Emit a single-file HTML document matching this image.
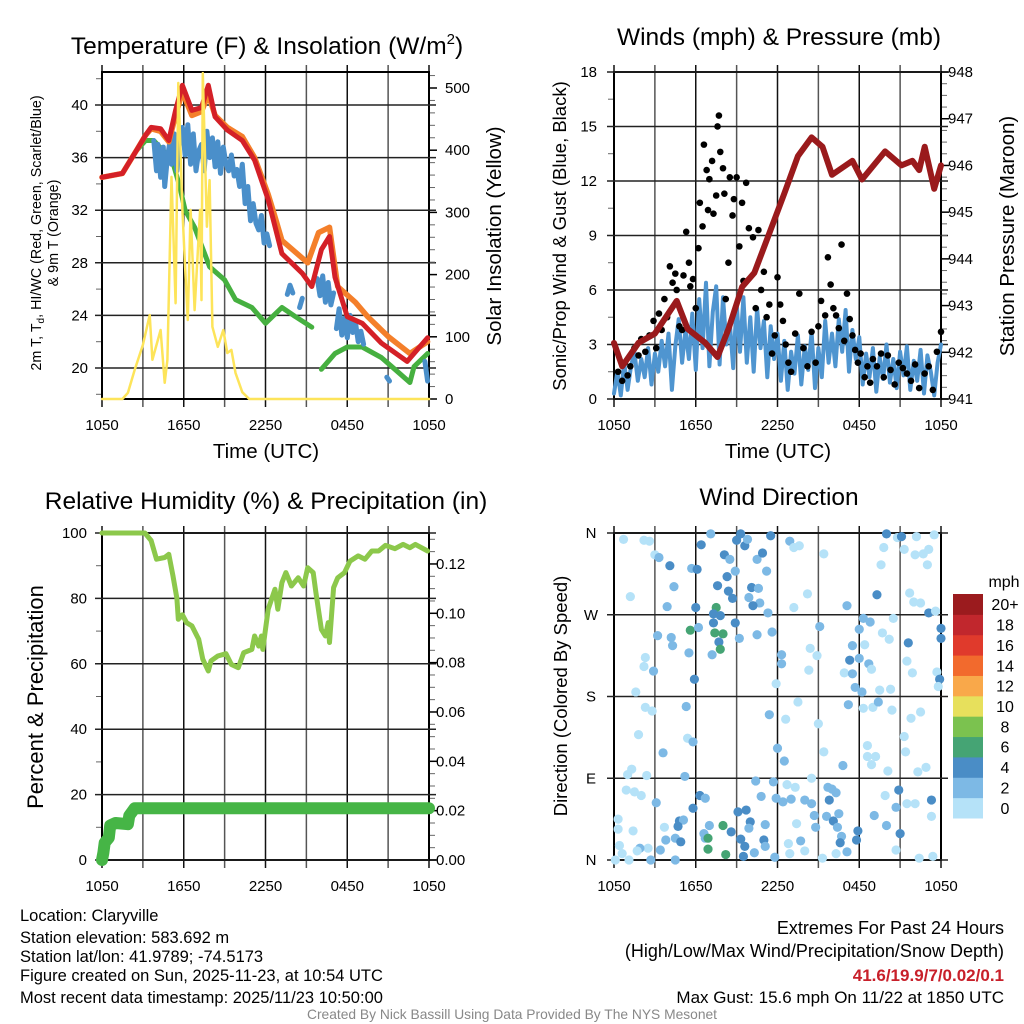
<!DOCTYPE html>
<html><head><meta charset="utf-8"><style>
html,body{margin:0;padding:0;background:#fff}
svg{display:block;font-family:"Liberation Sans",sans-serif}
</style></head><body>
<svg id="c" width="1024" height="1024" viewBox="0 0 1024 1024" xmlns="http://www.w3.org/2000/svg">
<rect width="1024" height="1024" fill="#fff"/>
<g id="g1"></g>
<g id="g2"></g>
<g id="g3"></g>
<g id="g4"></g>
<text x="267" y="54" font-size="24.5" text-anchor="middle">Temperature (F) &amp; Insolation (W/m<tspan font-size="15" dy="-10">2</tspan><tspan dy="10">)</tspan></text>
<text x="779" y="45" font-size="24.5" text-anchor="middle">Winds (mph) &amp; Pressure (mb)</text>
<text x="266" y="509" font-size="24.5" text-anchor="middle">Relative Humidity (%) &amp; Precipitation (in)</text>
<text x="779" y="505" font-size="24.5" text-anchor="middle">Wind Direction</text>
<text transform="translate(41,233) rotate(-90)" font-size="14.3" text-anchor="middle">2m T, T<tspan font-size="10" dy="3">d</tspan><tspan dy="-3">, HI/WC (Red, Green, Scarlet/Blue)</tspan></text>
<text transform="translate(58,233) rotate(-90)" font-size="14.3" text-anchor="middle">&amp; 9m T (Orange)</text>
<text transform="translate(501,236) rotate(-90)" font-size="20.5" text-anchor="middle">Solar Insolation (Yellow)</text>
<text x="266" y="458" font-size="20.5" text-anchor="middle">Time (UTC)</text>
<text x="778" y="458" font-size="20.5" text-anchor="middle">Time (UTC)</text>
<text transform="translate(566,236) rotate(-90)" font-size="18.5" text-anchor="middle">Sonic/Prop Wind &amp; Gust (Blue, Black)</text>
<text transform="translate(1014,236) rotate(-90)" font-size="20.5" text-anchor="middle">Station Pressure (Maroon)</text>
<text transform="translate(43,697) rotate(-90)" font-size="22" text-anchor="middle">Percent &amp; Precipitation</text>
<text transform="translate(567,696) rotate(-90)" font-size="18.5" text-anchor="middle">Direction (Colored By Speed)</text>
<g font-size="16.5">
<text x="20" y="921">Location: Claryville</text>
<text x="20" y="943">Station elevation: 583.692 m</text>
<text x="20" y="962">Station lat/lon: 41.9789; -74.5173</text>
<text x="20" y="981">Figure created on Sun, 2025-11-23, at 10:54 UTC</text>
<text x="20" y="1003">Most recent data timestamp: 2025/11/23 10:50:00</text>
</g>
<g font-size="18" text-anchor="end">
<text x="1004" y="934">Extremes For Past 24 Hours</text>
<text x="1004" y="957">(High/Low/Max Wind/Precipitation/Snow Depth)</text>
<text x="1004" y="981" font-size="17" fill="#c8202a" font-weight="bold">41.6/19.9/7/0.02/0.1</text>
<text x="1004" y="1003" font-size="17">Max Gust: 15.6 mph On 11/22 at 1850 UTC</text>
</g>
<text x="512" y="1019" font-size="13.8" fill="#888" text-anchor="middle">Created By Nick Bassill Using Data Provided By The NYS Mesonet</text>
</svg>
<script>
// ---- Temperature panel data ----
const redHours=[0,1.5,2.5,3.2,3.6,4.3,4.9,5.4,5.9,6.6,7.3,7.8,8.3,9.2,10.3,11.2,12.2,13.2,14.7,15.4,16.1,16.7,17.1,18.0,19.1,20.5,22.4,23.9];
const redTemps=[34.5,34.8,36.5,37.7,38.3,38.2,37.3,39.6,41.5,39.6,39.8,41.5,39.1,38.1,37.3,35.8,32.8,28.7,27.2,26.2,29.0,30.0,26.9,23.9,23.4,21.9,20.5,22.3];
const orangeHours=[0,1.5,2.5,3.2,3.6,4.3,4.9,5.4,5.9,6.6,7.3,7.8,8.3,9.2,10.3,11.2,12.2,12.7,13.2,15.1,15.9,16.7,17.3,18.6,19.5,21.0,22.6,23.9];
const orangeTemps=[34.5,34.8,36.5,37.7,38.2,38.0,37.2,39.2,41.0,39.2,39.5,40.8,39.2,38.3,37.6,36.0,33.2,31.5,29.7,28.0,30.3,30.7,26.2,25.0,23.9,22.4,21.1,22.0];
const greenHours=[0,1.5,2.5,3.2,3.8,4.5,5.1,5.7,6.1,6.8,7.9,9.0,9.8,11.0,12.0,13.2,14.2,15.4,15.7,16.1,17.1,18.0,19.1,20.5,21.5,22.6,22.9,23.9];
const greenTemps=[34.5,34.8,36.5,37.3,37.3,36.5,36.0,33.8,32.0,30.7,27.7,26.7,25.2,24.6,23.4,24.6,23.9,23.1,null,19.9,21.1,21.6,21.6,20.8,19.9,18.9,20.1,21.1];
const blueHours=[3.8,4.0,4.1,4.3,4.5,4.6,4.8,5.0,5.1,5.3,5.5,5.7,5.9,6.1,6.3,6.5,6.7,6.9,7.1,7.3,7.5,7.7,7.9,8.1,8.3,8.5,8.7,8.9,9.1,9.3,9.5,9.7,9.9,10.1,10.3,10.5,10.7,10.9,11.1,11.3,11.5,11.7,11.9,12.1,12.3,13.0,13.6,13.8,14.0,14.2,14.5,14.7,15.0,15.8,16.0,16.2,16.4,16.6,16.8,17.0,17.1,17.2,17.4,17.6,17.8,18.0,18.2,18.4,18.6,18.8,19.0,19.2,20.0,20.9,21.1,22.0,23.7,23.9];
const blueTemps=[37.3,35.0,37.0,34.5,36.8,33.8,36.0,37.3,35.5,37.8,35.0,37.5,38.3,36.2,38.5,35.5,37.8,35.0,36.5,37.0,35.0,38.0,36.0,37.5,35.3,37.2,34.8,36.8,35.5,35.0,36.2,34.6,35.1,33.8,35.5,32.5,33.8,31.2,32.5,31.0,30.5,31.6,29.5,30.2,29.3,null,25.6,26.3,25.7,null,24.6,25.3,null,26.8,25.5,27.0,25.0,26.5,24.8,25.7,null,23.0,24.5,22.5,23.8,22.3,24.0,22.7,23.5,22.0,22.8,21.8,null,19.3,19.0,null,20.5,19.0];
const solarHours=[0,1.5,1.9,2.4,3.0,3.5,3.7,4.3,4.6,4.8,5.1,5.4,5.6,5.9,6.1,6.3,6.5,6.8,7.2,7.3,7.4,7.7,7.9,8.1,8.5,8.9,9.2,9.5,9.8,10.3,10.8,24];
const solarWatts=[0,0,10,47,87,135,63,111,26,63,357,154,508,304,212,127,304,143,304,159,524,277,352,116,84,111,74,79,42,11,0,0];
const tempTicks=[20,24,28,32,36,40];
const solarTicks=[0,100,200,300,400,500];
const timeTickLabels=["1050","1650","2250","0450","1050"];
// ---- Winds panel data ----
const gustHours=[0.3,0.6,0.8,1.0,1.2,1.5,1.8,2.0,2.3,2.6,2.9,3.1,3.3,3.5,3.7,3.9,4.1,4.3,4.5,4.6,4.8,5.0,5.1,5.3,5.5,5.6,5.8,6.0,6.2,6.3,6.5,6.6,6.8,6.9,7.0,7.2,7.3,7.5,7.6,7.7,7.8,8.0,8.1,8.2,8.4,8.5,8.7,8.8,9.0,9.2,9.4,9.5,9.7,9.9,10.2,10.4,10.6,10.8,11.0,11.2,11.4,11.6,11.8,12.0,12.2,12.4,12.6,12.8,13.0,13.3,13.6,13.9,14.2,14.5,14.8,15.0,15.2,15.5,15.7,15.9,16.1,16.3,16.5,16.7,16.9,17.1,17.3,17.5,17.7,17.9,18.1,18.4,18.6,18.8,19.0,19.3,19.6,19.8,20.1,20.3,20.6,20.9,21.2,21.5,21.8,22.1,22.4,22.8,23.1,23.4,23.7,24.0];
const gustMph=[1.5,1.0,2.0,1.3,1.8,2.8,2.4,3.3,2.6,3.5,4.3,2.8,4.7,3.8,5.5,4.5,7.3,6.4,6.9,6.0,4.0,3.8,6.8,9.2,7.5,6.2,6.6,5.0,8.3,10.8,9.5,14.0,12.6,10.4,12.1,13.1,10.2,11.2,15.0,15.6,13.6,12.7,11.3,5.5,7.5,12.2,10.1,11.0,12.2,8.4,10.8,6.5,11.9,9.4,8.9,5.0,9.3,6.0,7.0,4.5,5.2,2.5,3.5,6.7,5.2,4.3,3.0,2.0,1.5,3.6,5.8,2.8,1.8,3.7,2.0,4.0,5.4,4.6,7.8,6.3,5.0,4.6,3.9,8.5,3.2,5.8,4.4,3.5,2.7,2.0,2.5,1.2,1.8,0.9,2.2,1.8,2.5,1.2,2.4,1.6,0.8,2.0,1.7,1.4,1.0,1.9,0.6,1.4,1.8,0.5,2.6,3.7];
const sonicStep=0.25;
const sonicMph=[0.3,1.5,0.2,2.0,0.5,1.8,2.6,1.0,2.2,1.2,2.8,0.8,2.5,1.5,3.2,1.8,3.6,0.5,2.9,4.4,2.0,3.8,2.2,4.7,1.6,5.5,2.8,6.4,1.8,4.8,6.2,1.9,5.6,3.0,4.2,1.7,5.3,2.6,5.6,2.0,4.5,1.5,5.0,2.8,4.3,1.2,4.0,2.2,3.6,1.0,3.2,0.5,2.6,1.4,3.5,0.8,2.9,1.6,3.7,0.6,2.8,1.2,4.3,2.0,3.6,1.8,4.4,2.6,4.9,1.5,3.8,2.2,3.4,0.8,2.5,1.2,2.8,0.4,2.3,1.1,3.0,0.9,2.2,0.6,2.6,1.3,2.9,0.5,2.1,1.0,2.7,0.3,2.4,1.5,0.2,2.0,3.0];
const presHours=[0,0.6,1.8,3.0,4.6,5.4,6.7,7.6,8.4,9.4,10.3,11.6,12.5,13.5,14.5,15.3,16.0,17.5,18.2,19.9,21.1,21.9,22.4,22.8,23.5,24];
const presMb=[942.2,941.7,942.2,942.4,943.1,942.5,942.2,941.9,942.5,943.4,943.7,944.7,945.4,946.2,946.6,946.4,945.8,946.1,945.7,946.3,946.0,946.1,945.9,946.4,945.5,946.0];
const windTicks=[0,3,6,9,12,15,18];
const presTicks=[941,942,943,944,945,946,947,948];
// ---- Humidity panel data ----
const rhHours=[0,3.15,3.6,4.0,4.6,4.9,5.2,5.5,5.6,5.9,6.2,6.6,7.1,7.4,7.8,8.0,8.5,9.1,9.5,10.0,10.4,11.0,11.2,11.5,11.7,11.8,12.2,12.7,12.9,13.2,13.5,13.9,14.4,14.8,15.1,15.5,15.7,16.1,16.4,16.6,16.7,17.0,17.3,17.8,18.2,18.8,19.3,19.8,20.3,20.8,21.5,22.1,22.6,23.0,23.9];
const rhPct=[100,100,97.7,92,92.5,93.5,87,80,73.6,75,72.6,71.6,67.5,61.4,57.8,60.9,62.4,63.1,59.8,58.8,63.4,64.4,68.5,65.4,68.5,64.4,76.7,82.8,76.7,84.8,87.9,83.8,86.3,83.8,89.4,87.9,81.8,70.5,68.5,72.6,66.5,83.3,86.3,87.9,91.4,93,92,94.5,94.5,96.2,95.2,96.5,95.5,96.5,94.5];
const precipHours=[0,0.1,0.2,0.5,0.6,1.0,1.9,2.0,2.4,24];
const precipIn=[0,0.003,0.007,0.009,0.014,0.015,0.0145,0.018,0.021,0.021];
const rhTicks=[0,20,40,60,80,100];
const precipTicks=[0,0.02,0.04,0.06,0.08,0.10,0.12];
// ---- Wind direction panel data ----
const dirHours=[0.7,2.2,2.6,3.0,3.3,4.1,4.4,1.2,3.9,5.7,6.1,6.4,7.1,8.1,8.5,8.3,7.6,8.4,8.7,8.9,9.0,9.3,9.6,9.8,10.5,10.9,11.2,10.1,10.6,9.9,10.7,10.2,11.3,6.0,7.5,11.5,12.9,13.2,13.6,14.2,13.2,15.4,17.1,19.3,19.6,19.8,20.0,20.8,21.1,21.3,21.7,22.0,22.5,22.2,22.1,22.7,23.1,23.0,23.5,23.1,23.6,
3.2,4.2,4.3,2.3,2.2,2.9,1.6,5.6,5.5,5.9,6.2,7.3,7.8,7.3,7.4,8.0,7.7,7.8,7.2,8.9,9.2,10.5,11.6,12.3,12.3,11.9,14.4,14.9,14.3,15.1,16.9,17.5,17.5,17.3,18.0,17.7,18.2,18.0,18.3,18.8,18.4,18.7,18.9,19.7,20.2,20.5,21.6,21.5,21.9,19.5,20.3,23.7,23.9,23.8,24.0,24.0,
2.3,2.8,1.8,3.6,5.3,5.4,5.8,1.3,1.0,2.4,5.2,13.5,11.4,12.6,15.0,12.0,12.5,15.4,16.8,17.2,18.3,19.0,19.4,20.4,21.8,22.5,21.3,21.4,18.6,18.6,19.2,18.9,20.1,22.3,22.9,
0.9,1.5,2.0,3.1,0.3,0.3,1.4,3.7,4.8,5.1,4.7,5.8,6.3,6.7,3.8,4.5,4.9,3.4,2.5,1.9,0.4,0.6,1.7,1.1,0.1,2.7,4.5,6.6,7.0,6.7,6.9,8.0,6.9,8.2,8.6,9.1,9.7,10.0,9.9,9.3,9.6,9.5,10.3,11.0,11.1,11.1,11.8,10.4,11.7,10.8,11.9,12.4,12.7,13.3,13.0,14.0,14.5,14.5,15.7,16.0,16.3,15.8,14.7,14.8,15.6,16.1,16.5,16.4,16.7,16.6,17.9,17.8,17.1,16.3,14.0,13.7,12.9,13.4,12.8,15.3,19.1,20.0,19.9,20.7,20.9,21.0,21.5,22.1,23.3,23.3,20.7,22.4,23.4];
const dirDegrees=[353,352,351,336,333,324,301,290,279,321,320,347,359,336,331,312,302,296,288,318,352,359,346,353,331,338,318,300,299,289,283,280,272,278,278,357,351,344,346,293,278,337,280,292,325,344,359,355,356,342,294,284,283,356,336,337,342,325,358,272,274,
247,245,236,223,213,208,185,253,228,199,256,271,269,261,250,249,240,232,226,261,244,248,251,226,216,194,233,225,209,257,206,205,236,220,222,190,185,254,266,262,237,216,210,250,243,266,239,219,206,187,188,207,199,191,255,244,
168,164,138,118,169,134,130,100,94,93,92,174,160,155,150,123,109,119,104,171,167,168,174,165,156,163,136,119,126,114,114,105,98,97,102,
77,75,71,63,45,34,32,36,43,44,37,57,71,68,22,24,20,11,13,13,16,7,10,0,0,0,0,29,38,24,24,38,12,6,31,53,55,42,35,23,15,4,8,22,15,39,3,87,86,70,68,64,83,80,67,66,62,90,80,78,74,66,49,36,48,43,51,36,26,19,32,22,9,7,10,21,7,40,18,2,49,38,71,58,77,29,62,62,66,48,11,2,4];
const dirSpeeds=[1,1,1,1,3,5,3,1,3,3,5,5,3,5,3,5,5,5,5,3,5,5,5,3,3,5,3,5,3,3,3,5,3,5,7,5,3,1,1,1,1,1,3,5,1,1,5,1,5,1,1,1,1,1,1,1,1,1,1,5,1,
3,3,3,1,1,3,1,7,3,5,3,5,5,5,7,7,5,7,3,5,3,3,3,3,3,1,1,1,1,3,1,3,3,5,3,3,3,3,3,3,1,3,1,1,1,1,5,1,1,1,1,1,5,1,5,5,
1,1,1,3,3,1,3,1,1,1,3,1,3,1,1,3,3,1,3,3,1,1,3,1,1,1,1,1,1,1,1,1,1,1,1,
1,1,1,3,1,1,1,1,5,3,5,5,5,3,3,3,5,3,1,3,1,1,1,1,1,3,3,3,3,3,7,7,7,7,5,5,5,5,3,5,5,5,3,5,3,3,3,3,3,3,3,3,1,1,3,3,3,1,3,3,3,5,3,3,3,5,3,3,3,5,5,5,3,1,1,3,1,1,1,1,3,3,1,3,5,5,1,1,5,1,1,1,1];
const dirTickLabels=["N","E","S","W","N"];
const speedBins=["0","2","4","6","8","10","12","14","16","18","20+"];
const speedColors=["#b5e2f8","#7db9e5","#4a8dc6","#45a474","#7bc24f","#e7e05c","#f9a84a","#f26a2d","#e03a2c","#c1272d","#9b1b1e"];

const NS="http://www.w3.org/2000/svg";
function mk(parent,tag,attrs){const e=document.createElementNS(NS,tag);for(const k in attrs)e.setAttribute(k,attrs[k]);parent.appendChild(e);return e;}
function pathFrom(hs,vs,fx,fy){let d="",pen=false;for(let i=0;i<hs.length;i++){if(vs[i]===null||vs[i]===undefined){pen=false;continue;}d+=(pen?"L":"M")+fx(hs[i]).toFixed(1)+","+fy(vs[i]).toFixed(1);pen=true;}return d;}

const L1=102,R1=429,L2=614,R2=941;
const xA=h=>L1+h*(R1-L1)/24;
const xB=h=>L2+h*(R2-L2)/24;
const yT=t=>368-(t-20)*13.15;
const yS=w=>399-w*0.622;
const yW=m=>399-m*18.17;
const yP=p=>399-(p-941)*46.71;
const yRH=r=>860-r*3.27;
const yPr=p=>860-p*2467;
const yD=d=>860-d*327/360;
const TICK=15;

function frame(g,L,R,T,B,name){
  for(let k=0;k<=8;k++){const x=L+k*(R-L)/8;
    const ln=mk(g,"line",{x1:x,y1:T-7,x2:x,y2:B+8,stroke:k%2?"#555":"#111","stroke-width":1.5});
    
    }
  const r=mk(g,"rect",{x:L,y:T,width:R-L,height:B-T,fill:"none",stroke:"#000","stroke-width":2});
  
  
}
function hgrid(g,L,R,ys){ys.forEach(y=>{const ln=mk(g,"line",{x1:L-7,y1:y,x2:R+7,y2:y,stroke:"#222","stroke-width":1.5});
  
  });}
function minorTicks(g,x,ys,dir){ys.forEach(y=>{const ln=mk(g,"line",{x1:x,y1:y,x2:x+dir*5,y2:y,stroke:"#666","stroke-width":1});
  
  });}
function label(g,x,y,s,anchor,size,name){const t=mk(g,"text",{x:x,y:y,"font-size":size||TICK,"text-anchor":anchor||"middle"});t.textContent=s;
  
  return t;}
function xLabels(g,fx,y){timeTickLabels.forEach((s,i)=>label(g,fx(i*6),y,s,"middle",TICK,'x-tick-label'));}
function series(g,hs,vs,fx,fy,color,w,name){const p=mk(g,"path",{d:pathFrom(hs,vs,fx,fy),fill:"none",stroke:color,"stroke-width":w,"stroke-linejoin":"round","stroke-linecap":"round"});
  
  return p;}

// ---------- Panel 1 ----------
const g1=document.getElementById('g1');
frame(g1,L1,R1,72,399,'temperature-plot');
hgrid(g1,L1,R1,tempTicks.map(yT));
minorTicks(g1,L1-1,[18,22,26,30,34,38,42].map(yT),-1);
minorTicks(g1,R1+1,[20,40,60,80,120,140,160,180,220,240,260,280,320,340,360,380,420,440,460,480,520].map(yS),1);
solarTicks.forEach(v=>{const ln=mk(g1,"line",{x1:R1,y1:yS(v),x2:R1+8,y2:yS(v),stroke:"#000","stroke-width":1.5});
  
  
  label(g1,445,yS(v)+5,String(v),"start",TICK,'solar-tick-label');});
tempTicks.forEach(v=>label(g1,88,yT(v)+5,String(v),"end",TICK,'temp-tick-label'));
xLabels(g1,xA,430);
series(g1,greenHours,greenTemps,xA,yT,"#46b040",5,'dewpoint-line');
series(g1,blueHours,blueTemps,xA,yT,"#4a8fca",5,'heat-index-wind-chill-line');
series(g1,orangeHours,orangeTemps,xA,yT,"#f47f2a",5.5,'9m-temperature-line');
series(g1,redHours,redTemps,xA,yT,"#d42027",5,'2m-temperature-line');
series(g1,solarHours,solarWatts,xA,yS,"#fde45a",2.5,'solar-insolation-line');

// ---------- Panel 2 ----------
const g2=document.getElementById('g2');
frame(g2,L2,R2,72,399,'winds-plot');
hgrid(g2,L2,R2,windTicks.map(yW));
minorTicks(g2,L2-1,[1.5,4.5,7.5,10.5,13.5,16.5].map(yW),-1);
const pm=[];for(let p=941.25;p<948;p+=0.25){if(Math.abs(p-Math.round(p))>0.01)pm.push(p);}
minorTicks(g2,R2+1,pm.map(yP),1);
presTicks.forEach(v=>{const ln=mk(g2,"line",{x1:R2,y1:yP(v),x2:R2+8,y2:yP(v),stroke:"#000","stroke-width":1.5});
  
  
  label(g2,948,yP(v)+5,String(v),"start",TICK,'pressure-tick-label');});
windTicks.forEach(v=>label(g2,597,yW(v)+5,String(v),"end",TICK,'wind-tick-label'));
xLabels(g2,xB,430);
const sonicHours=sonicMph.map((v,i)=>i*sonicStep);
series(g2,sonicHours,sonicMph,xB,yW,"#4f95d0",4,'sonic-wind-line');
gustHours.forEach((h,i)=>{const c=mk(g2,"circle",{cx:xB(h),cy:yW(gustMph[i]),r:3.3,fill:"#000"});
  
  });
series(g2,presHours,presMb,xB,yP,"#9a1a1c",6,'pressure-line');

// ---------- Panel 3 ----------
const g3=document.getElementById('g3');
frame(g3,L1,R1,533,860,'humidity-plot');
hgrid(g3,L1,R1,rhTicks.map(yRH));
minorTicks(g3,L1-1,[10,30,50,70,90].map(yRH),-1);
const prm=[];for(let p=0.005;p<0.132;p+=0.005){if(Math.abs(p/0.02-Math.round(p/0.02))>0.01)prm.push(p);}
minorTicks(g3,R1+1,prm.map(yPr),1);
precipTicks.forEach(v=>{const ln=mk(g3,"line",{x1:R1,y1:yPr(v),x2:R1+8,y2:yPr(v),stroke:"#000","stroke-width":1.5});
  
  
  label(g3,436,yPr(v)+5,v.toFixed(2),"start",TICK,'precip-tick-label');});
rhTicks.forEach(v=>label(g3,87,yRH(v)+5,String(v),"end",TICK,'rh-tick-label'));
xLabels(g3,xA,891);
series(g3,rhHours,rhPct,xA,yRH,"#8cc84b",5,'relative-humidity-line');
series(g3,precipHours,precipIn,xA,yPr,"#46b546",12,'precipitation-line');

// ---------- Panel 4 ----------
const g4=document.getElementById('g4');
frame(g4,L2,R2,533,860,'direction-plot');
hgrid(g4,L2,R2,[0,90,180,270,360].map(yD));
dirTickLabels.forEach((s,i)=>label(g4,591,yD(i*90)+5,s,"middle",TICK,'direction-tick-label'));
xLabels(g4,xB,891);
function speedColor(s){let i=Math.floor(s/2);if(i>10)i=10;return speedColors[i];}
dirHours.forEach((h,i)=>{const c=mk(g4,"circle",{cx:xB(h),cy:yD(dirDegrees[i]),r:4.6,fill:speedColor(dirSpeeds[i])});
  
  });
const cb=mk(g4,"g",{});


const cbTop=594,cbH=224/11;
speedBins.forEach((s,i)=>{const y=cbTop+(10-i)*cbH;
  const r=mk(cb,"rect",{x:953,y:y,width:30,height:cbH+0.5,fill:speedColors[i]});
  
  
  label(cb,1005,y+cbH/2+6,s,"middle",16,'colorbar-label');});
label(cb,1004,587,"mph","middle",16,'colorbar-title');
</script>
</body></html>
